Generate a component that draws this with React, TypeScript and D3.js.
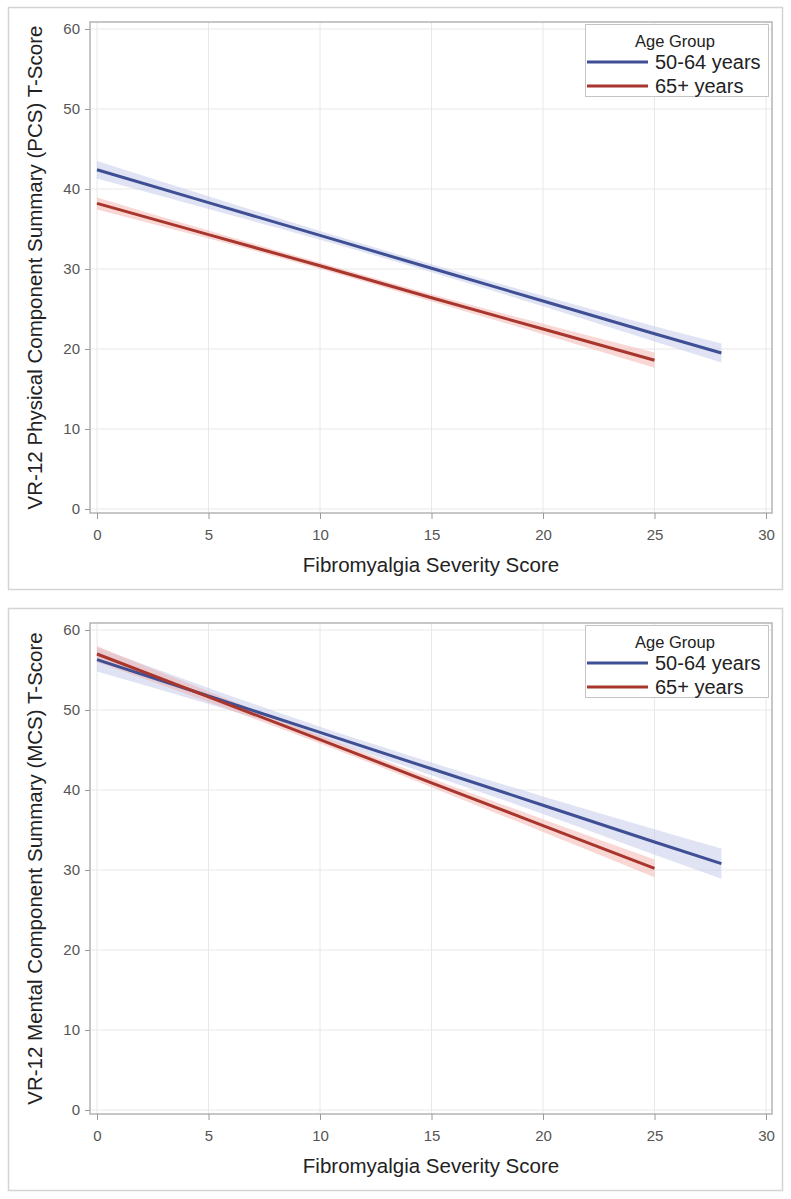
import React, { useEffect, useRef } from 'react';
import * as d3 from 'd3';

const ageGroups = ['50-64 years', '65+ years'];
const lineColors = ['#3f4f94', '#a8362c'];
const bandColors = ['#bfc7ea', '#f2afac'];

const xTicks = [0, 5, 10, 15, 20, 25, 30];
const yTicks = [0, 10, 20, 30, 40, 50, 60];

// severity scores where fit and confidence limits are read
const sevYoung = [0, 5, 10, 15, 20, 25, 28];
const sevOld = [0, 5, 10, 15, 20, 25];

// physical component summary
const pcsYoungFit = [42.4, 38.3, 34.2, 30.1, 26.0, 21.9, 19.5];
const pcsYoungLo = [41.3, 37.5, 33.65, 29.6, 25.35, 20.95, 18.3];
const pcsYoungHi = [43.5, 39.1, 34.75, 30.6, 26.65, 22.85, 20.7];
const pcsOldFit = [38.2, 34.3, 30.4, 26.4, 22.5, 18.6];
const pcsOldLo = [37.45, 33.8, 30.0, 25.95, 21.85, 17.65];
const pcsOldHi = [38.95, 34.8, 30.8, 26.85, 23.15, 19.55];

// mental component summary
const mcsYoungFit = [56.3, 51.75, 47.2, 42.65, 38.1, 33.5, 30.8];
const mcsYoungLo = [54.8, 50.75, 46.5, 41.85, 37.0, 31.9, 28.9];
const mcsYoungHi = [57.8, 52.75, 47.9, 43.45, 39.2, 35.1, 32.7];
const mcsOldFit = [57.0, 51.65, 46.3, 40.9, 35.55, 30.2];
const mcsOldLo = [56.0, 51.0, 45.8, 40.35, 34.75, 29.1];
const mcsOldHi = [58.0, 52.3, 46.8, 41.45, 36.35, 31.3];

const W = 791;
const H = 1199;
const frame = { left: 90, right: 772, top: 22, bottom: 513 };
const FONT = '"Liberation Sans", Arial, Helvetica, sans-serif';

type Series = { sev: number[]; fit: number[]; lo: number[]; hi: number[] };

interface PanelSpec {
  offsetY: number;
  yTitle: string;
  series: Series[];
}

const panels: PanelSpec[] = [
  {
    offsetY: 0,
    yTitle: 'VR-12 Physical Component Summary (PCS) T-Score',
    series: [
      { sev: sevYoung, fit: pcsYoungFit, lo: pcsYoungLo, hi: pcsYoungHi },
      { sev: sevOld, fit: pcsOldFit, lo: pcsOldLo, hi: pcsOldHi },
    ],
  },
  {
    offsetY: 601,
    yTitle: 'VR-12 Mental Component Summary (MCS) T-Score',
    series: [
      { sev: sevYoung, fit: mcsYoungFit, lo: mcsYoungLo, hi: mcsYoungHi },
      { sev: sevOld, fit: mcsOldFit, lo: mcsOldLo, hi: mcsOldHi },
    ],
  },
];

const App = () => {
  const ref = useRef<SVGSVGElement>(null);

  useEffect(() => {
    const svg = d3.select(ref.current);
    svg.selectAll('*').remove();

    const x = d3.scaleLinear().domain([0, 30]).range([97, 766]);
    const y = d3.scaleLinear().domain([0, 60]).range([509, 29]);

    panels.forEach((panel) => {
      const g = svg.append('g').attr('transform', `translate(0,${panel.offsetY})`);

      g.append('rect')
        .attr('x', 8.5)
        .attr('y', 7.5)
        .attr('width', 774)
        .attr('height', 582)
        .attr('fill', 'white')
        .attr('stroke', '#d4d4d4')
        .attr('stroke-width', 1.5);

      // grid
      g.append('g')
        .selectAll('line')
        .data(xTicks)
        .join('line')
        .attr('x1', (d) => x(d))
        .attr('x2', (d) => x(d))
        .attr('y1', frame.top)
        .attr('y2', frame.bottom)
        .attr('stroke', '#e8e8e8');
      g.append('g')
        .selectAll('line')
        .data(yTicks)
        .join('line')
        .attr('x1', frame.left)
        .attr('x2', frame.right)
        .attr('y1', (d) => y(d))
        .attr('y2', (d) => y(d))
        .attr('stroke', '#e8e8e8');

      // confidence bands, then fit lines
      panel.series.forEach((s, i) => {
        const pts = s.sev.map((v, k) => ({ sev: v, fit: s.fit[k], lo: s.lo[k], hi: s.hi[k] }));
        const area = d3
          .area<(typeof pts)[number]>()
          .x((d) => x(d.sev))
          .y0((d) => y(d.lo))
          .y1((d) => y(d.hi))
          .curve(d3.curveMonotoneX);
        g.append('path')
          .attr('d', area(pts))
          .attr('fill', bandColors[i])
          .attr('fill-opacity', 0.5);
      });
      panel.series.forEach((s, i) => {
        const pts = s.sev.map((v, k) => [x(v), y(s.fit[k])] as [number, number]);
        g.append('path')
          .attr('d', d3.line()(pts))
          .attr('fill', 'none')
          .attr('stroke', lineColors[i])
          .attr('stroke-width', 3);
      });

      g.append('rect')
        .attr('x', frame.left)
        .attr('y', frame.top)
        .attr('width', frame.right - frame.left)
        .attr('height', frame.bottom - frame.top)
        .attr('fill', 'none')
        .attr('stroke', '#b4b4b4')
        .attr('stroke-width', 1.5);

      const xAxis = g
        .append('g')
        .attr('transform', `translate(0,${frame.bottom})`)
        .call(d3.axisBottom(x).tickValues(xTicks).tickSize(6).tickPadding(10));
      const yAxis = g
        .append('g')
        .attr('transform', `translate(${frame.left},0)`)
        .call(d3.axisLeft(y).tickValues(yTicks).tickSize(5).tickPadding(5));
      [xAxis, yAxis].forEach((ax) => {
        ax.select('.domain').remove();
        ax.selectAll('line').attr('stroke', '#9a9a9a');
        ax.selectAll('text')
          .attr('font-family', FONT)
          .attr('font-size', 15)
          .attr('fill', '#555');
      });

      g.append('text')
        .attr('x', (frame.left + frame.right) / 2)
        .attr('y', 572)
        .attr('text-anchor', 'middle')
        .attr('font-family', FONT)
        .attr('font-size', 20.5)
        .attr('fill', '#222')
        .text('Fibromyalgia Severity Score');

      g.append('text')
        .attr('transform', 'rotate(-90)')
        .attr('x', -(frame.top + frame.bottom) / 2)
        .attr('y', 42)
        .attr('text-anchor', 'middle')
        .attr('font-family', FONT)
        .attr('font-size', 20.5)
        .attr('fill', '#222')
        .text(panel.yTitle);

      // legend
      const lg = g.append('g');
      lg.append('rect')
        .attr('x', 585.5)
        .attr('y', 24.5)
        .attr('width', 183)
        .attr('height', 72)
        .attr('fill', 'white')
        .attr('stroke', '#c4c4c4');
      lg.append('text')
        .attr('x', 675)
        .attr('y', 47)
        .attr('text-anchor', 'middle')
        .attr('font-family', FONT)
        .attr('font-size', 16.5)
        .attr('fill', '#222')
        .text('Age Group');
      ageGroups.forEach((name, i) => {
        const ly = 62 + i * 24;
        lg.append('line')
          .attr('x1', 587)
          .attr('x2', 648)
          .attr('y1', ly)
          .attr('y2', ly)
          .attr('stroke', lineColors[i])
          .attr('stroke-width', 3);
        lg.append('text')
          .attr('x', 655)
          .attr('y', ly + 7)
          .attr('font-family', FONT)
          .attr('font-size', 20)
          .attr('fill', '#222')
          .text(name);
      });
    });
  }, []);

  return (
    <svg
      ref={ref}
      width={W}
      height={H}
      style={{ position: 'absolute', left: 0, top: 0, background: 'white' }}
    />
  );
};

export default App;
